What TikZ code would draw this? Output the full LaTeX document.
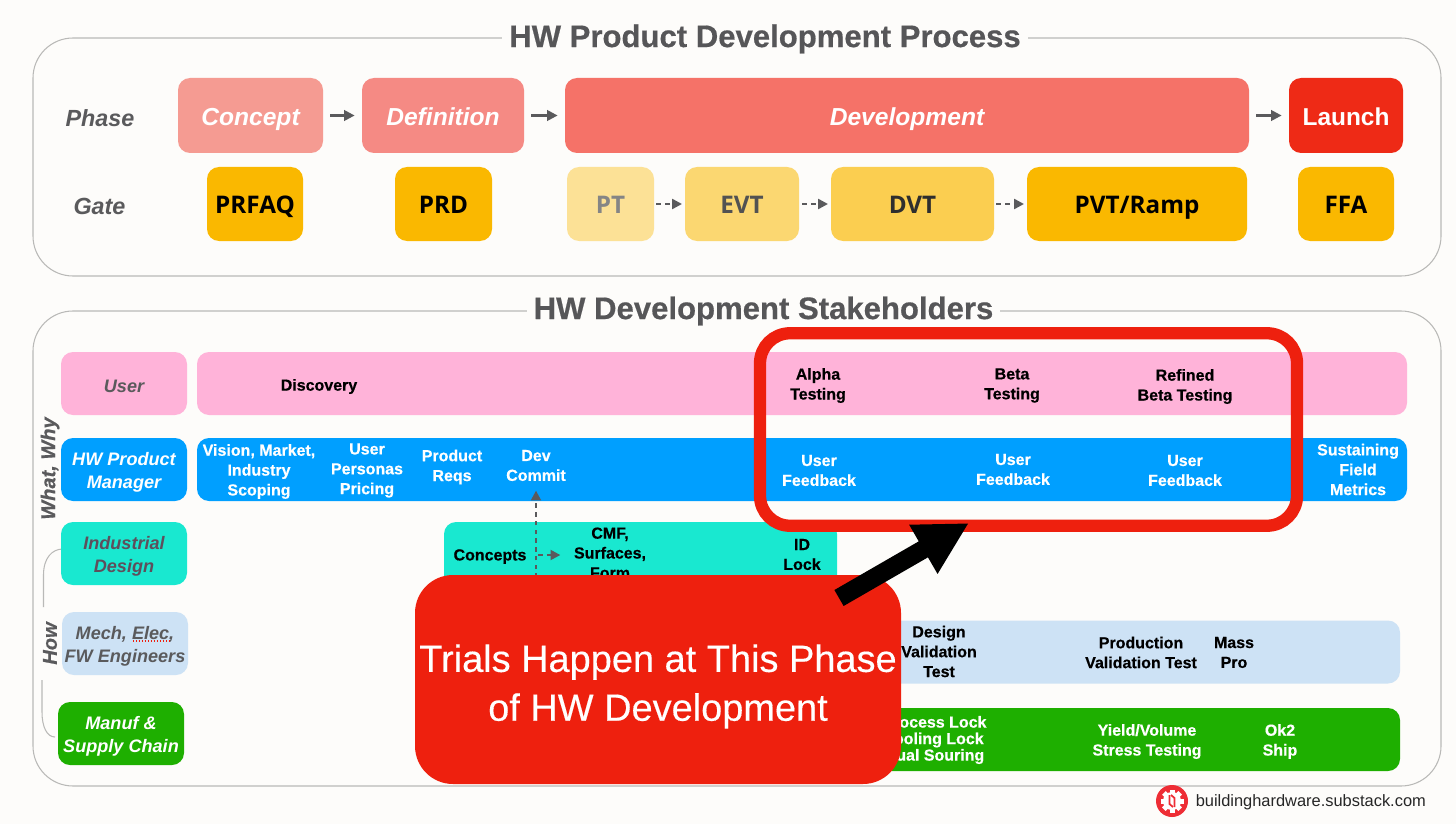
\documentclass[tikz,border=0pt]{standalone}
\usepackage{fontspec}
\usepackage{xcolor}
\usetikzlibrary{arrows.meta, positioning}
\setmainfont{Liberation Sans}
\newfontfamily\gatefont{Open Sans}
\newfontfamily\heavyfont[BoldFeatures={FakeBold=0.5}, BoldItalicFeatures={FakeBold=0.6}]{Liberation Sans}
\newfontfamily\mediumfont[FakeBold=0.3]{Liberation Sans}
\newcommand{\px}{0.02cm}

\definecolor{pagebg}{HTML}{FDFCFA}
\definecolor{framegray}{HTML}{B9B9B7}
\definecolor{labelgray}{HTML}{5A5A5C}
\definecolor{titlegray}{HTML}{565658}
\definecolor{alertred}{HTML}{EE200E}
\definecolor{gateyellow}{HTML}{FAB800}
\definecolor{userpink}{HTML}{FFB3D9}
\definecolor{pmblue}{HTML}{009FFF}
\definecolor{idteal}{HTML}{19E8D0}
\definecolor{idtext}{HTML}{5E4F5C}
\definecolor{engblue}{HTML}{CDE2F5}
\definecolor{mfggreen}{HTML}{1EAF00}
\definecolor{conceptred}{HTML}{F59B92}
\definecolor{definitionred}{HTML}{F58A84}
\definecolor{developmentred}{HTML}{F57268}
\definecolor{launchred}{HTML}{EE2A16}
\definecolor{logored}{HTML}{EE2D35}

\tikzset{
    boxsize/.style 2 args={minimum width=#1*\px, minimum height=#2*\px},
    box/.style={rectangle, rounded corners=12*\px, inner sep=0pt, align=center},
    frame/.style={draw=framegray, line width=0.6pt, rounded corners=40*\px},
    headline/.style={fill=pagebg, text=titlegray, inner xsep=4pt, inner ysep=1pt, font=\heavyfont\bfseries\fontsize{17.7}{20}\selectfont},
    rowhead/.style={text=labelgray, font=\bfseries\itshape\fontsize{13.3}{18}\selectfont},
    phasetext/.style={text=white, text height=10pt, text depth=0pt, font=\bfseries\itshape\fontsize{14}{18}\selectfont},
    gatetext/.style={text height=10pt, text depth=0pt, font=\gatefont\bfseries\fontsize{13.8}{18}\selectfont},
    who/.style={box, boxsize={126}{63}},
    whotext/.style={align=center, inner sep=0pt, font=\bfseries\itshape\fontsize{10.3}{13.2}\selectfont},
    sidetext/.style={rotate=90, text=labelgray, font=\heavyfont\bfseries\itshape\fontsize{11.4}{13}\selectfont},
    item/.style={align=center, inner sep=0pt, yshift=-1.5*\px, font=\heavyfont\bfseries\fontsize{9.1}{11.3}\selectfont},
    flow/.style={draw=labelgray, line width=1.3pt, -{Triangle[length=6pt,width=6pt]}, shorten >=4pt, shorten <=4pt},
    dashflow/.style={draw=labelgray, line width=1.3pt, dash pattern=on 2.6pt off 2.4pt, -{Triangle[length=5.6pt,width=5.6pt]}, shorten >=1.5pt},
    brace/.style={draw=framegray, line width=0.6pt},
}

\begin{document}
\begin{tikzpicture}[x=\px, y=-\px]
    \useasboundingbox (0,0) rectangle (1456,824);
    \fill[pagebg] (0,0) rectangle (1456,824);

    % Process frame
    \node[frame, boxsize={1408}{238}] (processframe) at (737,157) {};
    \node[headline] (processtitle) at (765,39) {HW Product Development Process};

    % Phases
    \node[rowhead] (phaselabel) at (100,118) {Phase};
    \foreach \name/\cx/\w/\col/\txt in {concept/250.5/145/conceptred/Concept, definition/443/162/definitionred/Definition, development/907/684/developmentred/Development} {
        \node[box, boxsize={\w}{75}, fill=\col] (\name) at (\cx,115.5) {};
        \node[phasetext] (\name text) at (\cx,116.5) {\txt};
    }
    \node[box, boxsize={114}{75}, fill=launchred] (launch) at (1346,115.5) {};
    \node[text=white, font=\bfseries\fontsize{13.9}{18}\selectfont] (launchtext) at (1346,116.5) {Launch};
    \draw[flow] (concept) -- (definition);
    \draw[flow] (definition) -- (development);
    \draw[flow] (development) -- (launch);

    % Gates
    \node[rowhead] (gatelabel) at (99.5,206) {Gate};
    \foreach \name/\cx/\w/\op/\tx/\txt in {prfaq/255/96/100/100/PRFAQ, prd/443.5/97/100/100/PRD, pt/610.5/87/40/48/PT, evt/742/114/55/68/EVT, dvt/912.5/163/68/82/DVT, pvt/1137/220/100/100/PVT\slash Ramp, ffa/1346/96/100/100/FFA} {
        \node[box, boxsize={\w}{74}, fill=gateyellow!\op!pagebg] (\name) at (\cx,204) {};
        \node[gatetext, text=black!\tx] (\name text) at (\cx,205) {\txt};
    }
    \draw[dashflow] (pt.east) ++(2,0) coordinate (ptout) -- (evt.west);
    \draw[dashflow] (evt.east) ++(3,0) coordinate (evtout) -- (dvt.west);
    \draw[dashflow] (dvt.east) ++(2,0) coordinate (dvtout) -- (pvt.west);

    % Stakeholder frame
    \node[frame, boxsize={1408}{475}] (stakeframe) at (737,548.5) {};
    \node[headline] (staketitle) at (763.5,311) {HW Development Stakeholders};

    % Side labels
    \node[sidetext] (whatwhy) at (50,468.5) {What, Why};
    \node[sidetext] (howlabel) at (50,643.5) {How};
    \coordinate (howtop) at (43.5,607);
    \coordinate (howlow) at (42,680);
    \draw[brace] (howtop) -- (43.5,575) .. controls (43.5,558) and (52,549) .. (63,549);
    \draw[brace] (howlow) -- (42,712) .. controls (42,727) and (47,737) .. (55,737);

    % Stakeholders
    \foreach \name/\cx/\cy/\col/\tc/\txt in {user/124/383.5/userpink/labelgray/User, pm/124/469.5/pmblue/white/HW Product\\Manager, idesign/124/553.5/idteal/idtext/Industrial\\Design, eng/125/643.5/engblue/labelgray/{Mech, Elec,\\FW Engineers}, mfg/121/733.5/mfggreen/white/Manuf \&\\Supply Chain} {
        \node[who, fill=\col] (\name) at (\cx,\cy) {};
        \node[whotext, text=\tc] (\name text) at ([yshift=-2.5*\px]\name) {\txt};
    }
    \draw[alertred, line width=0.7pt, densely dotted] (133,641) -- (170,641);

    % Activity bars
    \node[box, boxsize={1210}{63}, fill=userpink] (userbar) at (802,383.5) {};
    \node[box, boxsize={1210}{63}, fill=pmblue] (pmbar) at (802,469.5) {};
    \node[box, boxsize={393}{78}, fill=idteal] (idbar) at (640.5,561) {};
    \node[box, boxsize={520}{63}, fill=engblue] (engbar) at (1140,652) {};
    \node[box, boxsize={520}{63}, fill=mfggreen] (mfgbar) at (1140,739.5) {};

    % Bar texts
    \foreach \name/\cx/\cy/\txt in {discovery/319/385/Discovery, alpha/818/384/Alpha\\Testing, beta/1012/384/Beta\\Testing, refined/1185/385/Refined\\Beta Testing, concepts/490/555/Concepts, cmf/610/551.5/{CMF,\\Surfaces,\\Form}, idlock/802/553/ID\\Lock, dvtest/939/650/Design\\Validation\\Test, pvtest/1141/651/Production\\Validation Test, masspro/1234/651/Mass\\Pro} {
        \node[item, text=black] (\name) at (\cx,\cy) {\txt};
    }
    \foreach \name/\cx/\cy/\txt in {vision/259/470/{Vision, Market,\\Industry\\Scoping}, personas/367/469/User\\Personas\\Pricing, reqs/452/465.5/Product\\Reqs, commit/536/464/Dev\\Commit, fbone/819/469/User\\Feedback, fbtwo/1013/468/User\\Feedback, fbthree/1185/469/User\\Feedback, sustain/1358/468/Sustaining\\Field\\Metrics, yield/1147/740/Yield\slash Volume\\Stress Testing, okship/1280/740/Ok2\\Ship} {
        \node[item, text=white] (\name) at (\cx,\cy) {\txt};
    }
    \node[item, text=white, font=\heavyfont\bfseries\fontsize{9.1}{9.4}\selectfont] (locks) at (934.5,738.5) {Process Lock\\Tooling Lock\\Dual Souring};

    % Dashed links
    \coordinate (commitlow) at (536,578);
    \coordinate (commithead) at (536,488);
    \coordinate (concepthead) at (563,555);
    \coordinate (conceptout) at (538,555);
    \draw[dashflow] (commitlow) -- (commithead);
    \draw[dashflow] (conceptout) -- (concepthead);

    % Callout
    \node[draw=alertred, line width=7pt, rectangle, rounded corners=30*\px, boxsize={537}{192.5}] (trialframe) at (1028.5,429.5) {};
    \node[rectangle, rounded corners=38*\px, boxsize={486}{209}, fill=alertred] (callout) at (658,679.5) {};
    \node[text=white, align=center, inner sep=0pt, font=\mediumfont\fontsize{21.6}{27.8}\selectfont] (callouttext) at (658,686.5) {Trials Happen at This Phase\\of HW Development};
    \coordinate (arrowtail) at (839,598);
    \coordinate (arrowtip) at (969,523);
    \draw[line width=10.5pt, black, -{Triangle[length=30pt,width=30pt]}] (arrowtail) -- (arrowtip);

    % Source mark
    \node[circle, fill=logored, minimum size=32*\px, inner sep=0pt] (logo) at (1172,801) {};
    \node[circle, fill=white, minimum size=18*\px, inner sep=0pt] (logogear) at (logo) {};
    \foreach \a in {0,45,...,315} {
        \fill[white, rotate around={\a:(logo)}] (1169.5,789.5) rectangle (1174.5,794);
    }
    \draw[logored, line width=1pt] (1169.5,795) -- (1169.5,804) -- (1173,807);
    \draw[logored, line width=1pt] (1174.5,807) -- (1174.5,798) -- (1171,795);
    \node[right=4pt of logo, inner sep=0pt, yshift=-1*\px, text=black!85, font=\fontsize{9.35}{11}\selectfont] (sourcetext) {buildinghardware.substack.com};
\end{tikzpicture}
\end{document}
